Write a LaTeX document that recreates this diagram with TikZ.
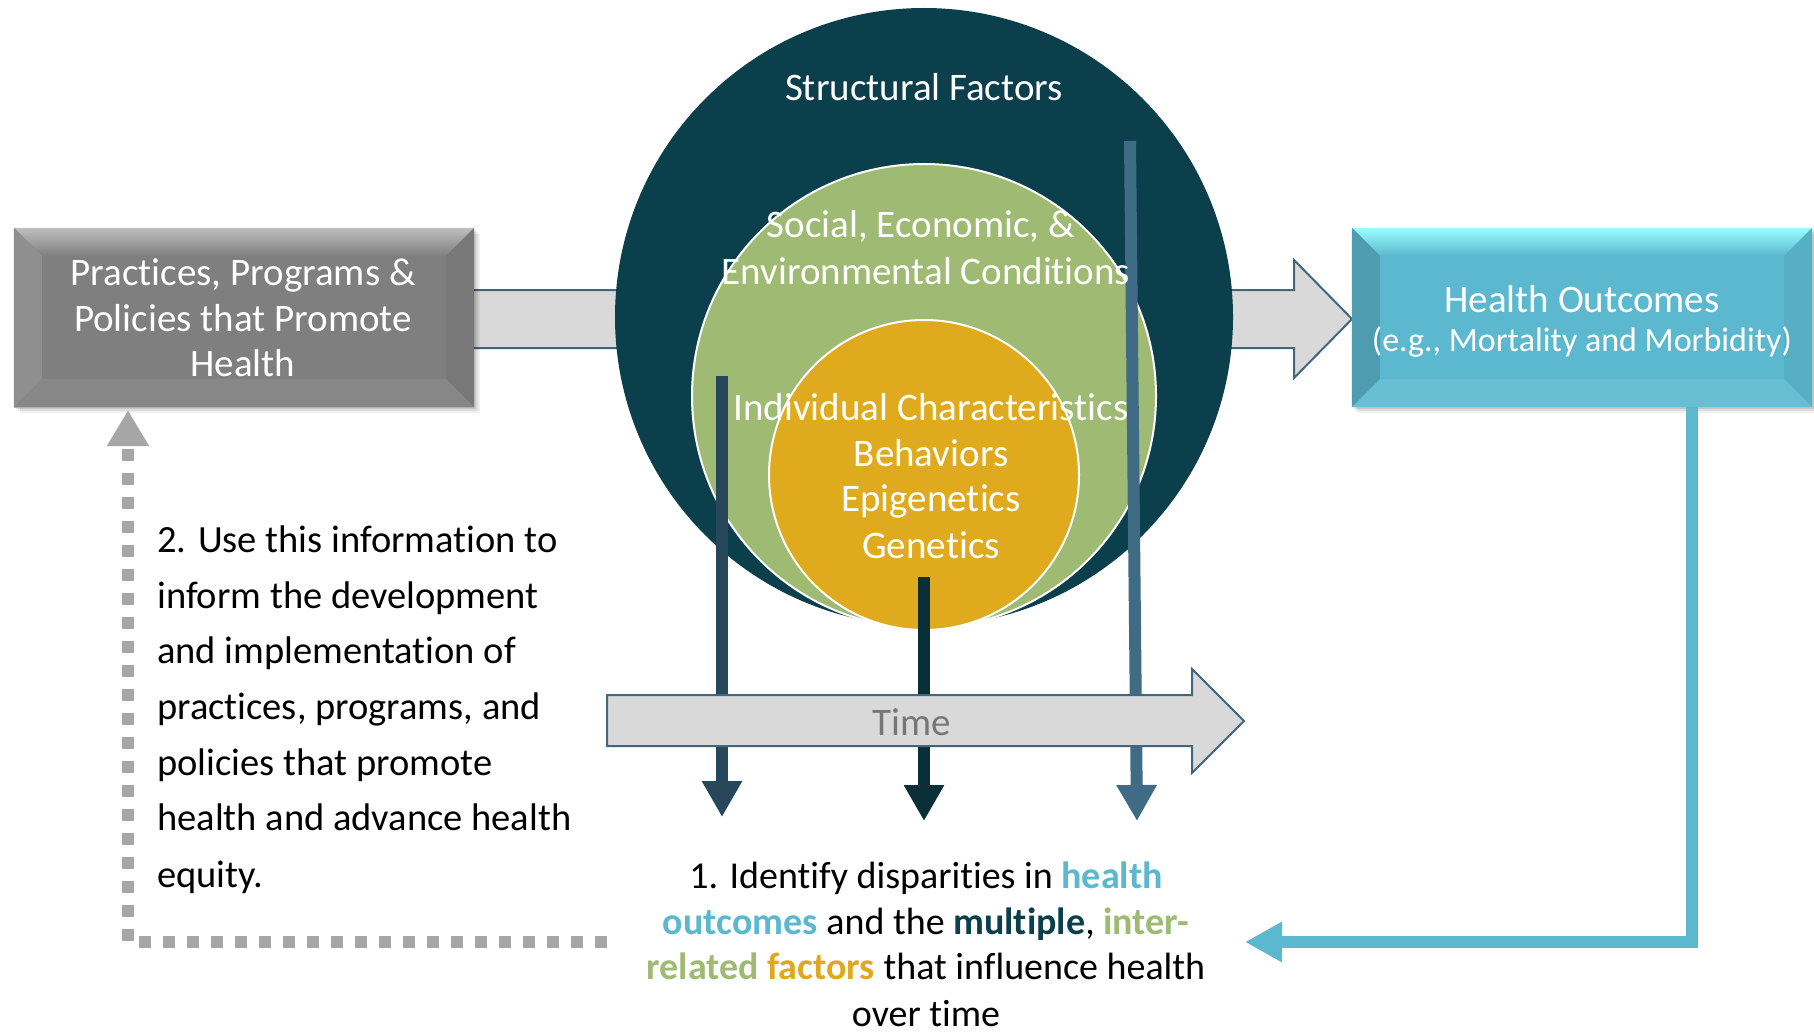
\documentclass[tikz,border=0pt]{standalone}
\usepackage{fontspec}
\setmainfont{Carlito}[Ligatures={NoCommon,NoRare},Contextuals=NoAlternate]
\usetikzlibrary{arrows.meta}
\definecolor{cOuter}{HTML}{0B3F4C}
\definecolor{cGreen}{HTML}{9FBA73}
\definecolor{cGold}{HTML}{E0AA1E}
\definecolor{cArrL}{HTML}{27475A}
\definecolor{cArrM}{HTML}{0A2F37}
\definecolor{cArrR}{HTML}{406B85}
\definecolor{cBar}{HTML}{D9D9D9}
\definecolor{cBarEdge}{HTML}{41667F}
\definecolor{cBox}{HTML}{7F7F7F}
\definecolor{cCyan}{HTML}{5BB8CF}
\definecolor{cDot}{HTML}{A6A6A6}
\definecolor{cTime}{HTML}{767676}
\definecolor{cTxtGold}{HTML}{E0A81C}
\newcommand\hl[2]{\textcolor{#1}{\bfseries #2}}
\begin{document}
\begin{tikzpicture}[x=1pt,y=-1pt,
  ctext/.style={text=white,font=\fontsize{39}{46}\selectfont,anchor=base,inner sep=0},
  stext/.style={text=white,font=\fontsize{34}{40}\selectfont,anchor=base,inner sep=0},
  ltext/.style={text=black,font=\fontsize{38.5}{46}\selectfont,anchor=base west,inner sep=0},
  btext/.style={text=black,font=\fontsize{38}{46}\selectfont,anchor=base,inner sep=0},
  grayarrow/.style={fill=cBar,draw=cBarEdge,line width=2pt,line join=miter},
  vline/.style={line width=12pt,-{Triangle[width=38pt,length=36pt]}},
  ring/.style={circle,inner sep=0,draw=white,line width=2pt},
  boxnode/.style={inner sep=0,minimum width=460pt,minimum height=179pt},
]
\useasboundingbox (0,0) rectangle (1814,1032);
\fill[white] (0,0) rectangle (1814,1032);

% big horizontal arrow behind the circles
\draw[grayarrow] (440,290) -- (1294,290) -- (1294,260) -- (1352,319)
  -- (1294,378) -- (1294,348) -- (440,348) -- cycle;

% nested circles
\node[circle,inner sep=0,minimum size=618pt,fill=cOuter] (outer) at (924,317) {};
\node[ring,minimum size=464pt,fill=cGreen] (mid) at (924,396) {};
\node[ring,minimum size=310pt,fill=cGold] (inner) at (924,475) {};

% vertical arrows
\coordinate (la1) at (722,376); \coordinate (la2) at (722,817);
\coordinate (ma1) at (924,577); \coordinate (ma2) at (924,821);
\coordinate (ra1) at (1130,141); \coordinate (ra2) at (1137,821);
\draw[vline,cArrL] (la1) -- (la2);
\draw[vline,cArrM] (ma1) -- (ma2);
\draw[vline,cArrR] (ra1) -- (ra2);

% circle texts
\node[ctext] (sf) at (924,101) {Structural Factors};
\node[ctext] (se1) at (921,238) {Social, Economic, \&};
\node[ctext] (se2) at (926,284) {Environmental Conditions};
\node[ctext] (ic1) at (931,420) {Individual Characteristics};
\node[ctext] (ic2) at (931,466) {Behaviors};
\node[ctext] (ic3) at (931,511) {Epigenetics};
\node[ctext] (ic4) at (931,558) {Genetics};

% time arrow
\draw[grayarrow] (607,695) -- (1192,695) -- (1192,669) -- (1244,721)
  -- (1192,773) -- (1192,746) -- (607,746) -- cycle;
\node[ctext,text=cTime] (time) at (912,735) {Time};

% left box
\foreach \o/\a in {2/0.10,4/0.08,6/0.06}{
  \fill[black,opacity=\a] (14+\o,228+\o) rectangle (474+\o,407+\o);}
\node[boxnode,fill=cBox] (ppp) at (244,317.5) {};
\shade[top color=black!25,bottom color=cBox] (ppp.north west) -- (ppp.north east)
  -- ([shift={(-28pt,-28pt)}]ppp.north east) -- ([shift={(28pt,-28pt)}]ppp.north west) -- cycle;
\fill[black!44] (ppp.north west) -- ([shift={(28pt,-28pt)}]ppp.north west)
  -- ([shift={(28pt,28pt)}]ppp.south west) -- (ppp.south west) -- cycle;
\fill[black!53] (ppp.north east) -- ([shift={(-28pt,-28pt)}]ppp.north east)
  -- ([shift={(-28pt,28pt)}]ppp.south east) -- (ppp.south east) -- cycle;
\fill[black!47] (ppp.south west) -- ([shift={(28pt,28pt)}]ppp.south west)
  -- ([shift={(-28pt,28pt)}]ppp.south east) -- (ppp.south east) -- cycle;
\draw[black!30,line width=1pt] (ppp.south west) -- (ppp.south east);
\node[ctext] (p1) at (243,286) {Practices, Programs \&};
\node[ctext] (p2) at (243,331) {Policies that Promote};
\node[ctext] (p3) at (243,376) {Health};

% right box
\foreach \o/\a in {2/0.10,4/0.08,6/0.06}{
  \fill[black,opacity=\a] (1352+\o,228+\o) rectangle (1812+\o,407+\o);}
\node[boxnode,fill=cCyan] (hob) at (1582,317.5) {};
\shade[top color=cyan!40!white,bottom color=cCyan] (hob.north west) -- (hob.north east)
  -- ([shift={(-28pt,-28pt)}]hob.north east) -- ([shift={(28pt,-28pt)}]hob.north west) -- cycle;
\fill[cCyan!85!black] (hob.north west) -- ([shift={(28pt,-28pt)}]hob.north west)
  -- ([shift={(28pt,28pt)}]hob.south west) -- (hob.south west) -- cycle;
\fill[cCyan!95!black] (hob.north east) -- ([shift={(-28pt,-28pt)}]hob.north east)
  -- ([shift={(-28pt,28pt)}]hob.south east) -- (hob.south east) -- cycle;
\fill[cCyan!92!white] (hob.south west) -- ([shift={(28pt,28pt)}]hob.south west)
  -- ([shift={(-28pt,28pt)}]hob.south east) -- (hob.south east) -- cycle;
\node[ctext] (h1) at (1582,312) {Health Outcomes};
\node[stext] (h2) at (1582,351) {(e.g., Mortality and Morbidity)};

% cyan connector
\coordinate (ctip) at (1245,942);
\draw[cCyan,line width=12pt,line join=miter,-{Triangle[width=38pt,length=37pt]}]
  ([xshift=-120pt]hob.south east) |- (ctip);

% dotted feedback connector
\coordinate (dstart) at (607,942);
\draw[cDot,line width=12pt,dash pattern=on 12pt off 12pt,
  -{Triangle[width=40pt,length=36pt]}]
  (dstart) -| ([xshift=-116pt,yshift=-3pt]ppp.south);

% left text
\node[ltext] (l1) at (157,552) {2. Use this information to};
\node[ltext] (l2) at (157,608) {inform the development};
\node[ltext] (l3) at (157,663) {and implementation of};
\node[ltext] (l4) at (157,719) {practices, programs, and};
\node[ltext] (l5) at (157,775) {policies that promote};
\node[ltext] (l6) at (157,830) {health and advance health};
\node[ltext] (l7) at (157,887) {equity.};

% bottom text
\node[btext] (b1) at (926,888) {1. Identify disparities in \hl{cCyan}{health}};
\node[btext] (b2) at (926,934) {\hl{cCyan}{outcomes} and the \hl{cOuter}{multiple}, \hl{cGreen}{inter-}};
\node[btext] (b3) at (926,979) {\hl{cGreen}{related} \hl{cTxtGold}{factors} that influence health};
\node[btext] (b4) at (926,1026) {over time};
\end{tikzpicture}
\end{document}
